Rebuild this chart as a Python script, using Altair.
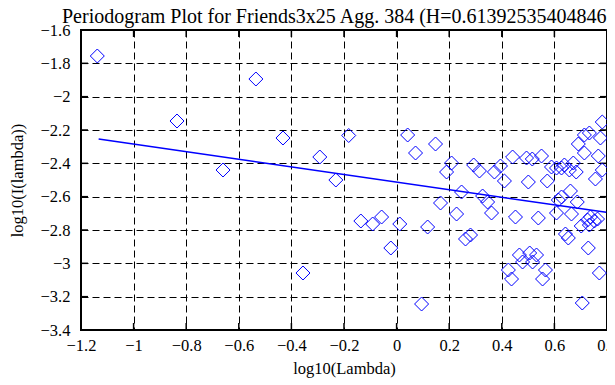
import altair as alt
import pandas as pd

title_text = "Periodogram Plot for Friends3x25 Agg. 384 (H=0.613925354048465)"
x_title = "log10(Lambda)"
y_title = "log10(I(lambda))"

x_vals = [-1.138, -0.535, -0.835, -0.432, -0.660, -0.292, -0.231, -0.356, -0.182, 0.042,
          0.072, 0.148, 0.209, 0.190, 0.293, 0.315, 0.372, 0.395, 0.410, 0.441,
          0.247, 0.327, 0.346, 0.167, 0.782, 0.714, 0.733, 0.775, 0.691, 0.714,
          0.767, 0.494, 0.516, 0.551, 0.589, 0.608, 0.627, 0.638, 0.672, 0.683,
          0.657, 0.782, 0.756, 0.501, 0.573, 0.627, 0.661, 0.615, 0.687, -0.136,
          -0.091, -0.057, 0.012, 0.118, -0.022, 0.095, 0.228, 0.361, 0.452, 0.262,
          0.281, 0.425, 0.437, 0.539, 0.608, 0.665, 0.737, 0.726, 0.752, 0.702,
          0.733, 0.642, 0.653, 0.729, 0.771, 0.467, 0.506, 0.532, 0.479, 0.517,
          0.566, 0.555, 0.706, 0.764]
y_vals = [-1.756, -1.894, -2.146, -2.248, -2.440, -2.362, -2.500, -3.058, -2.233, -2.230,
          -2.338, -2.284, -2.398, -2.452, -2.410, -2.446, -2.452, -2.416, -2.506, -2.362,
          -2.572, -2.596, -2.632, -2.638, -2.152, -2.230, -2.218, -2.248, -2.284, -2.338,
          -2.356, -2.368, -2.374, -2.356, -2.422, -2.428, -2.428, -2.410, -2.398, -2.452,
          -2.440, -2.440, -2.494, -2.512, -2.506, -2.602, -2.566, -2.620, -2.632, -2.746,
          -2.764, -2.722, -2.764, -2.782, -2.908, -3.244, -2.704, -2.698, -2.722, -2.854,
          -2.830, -3.040, -3.094, -2.728, -2.698, -2.704, -2.722, -2.740, -2.746, -2.776,
          -2.770, -2.824, -2.848, -2.908, -3.058, -2.950, -2.938, -2.950, -2.992, -2.992,
          -3.040, -3.094, -3.238, -2.734]

fit_x = [-1.133, 0.797]
fit_y = [-2.254, -2.694]

x_ticks = [-1.2, -1.0, -0.8, -0.6, -0.4, -0.2, 0.0, 0.2, 0.4, 0.6, 0.8]
y_ticks = [-3.4, -3.2, -3.0, -2.8, -2.6, -2.4, -2.2, -2.0, -1.8, -1.6]

FONT = "Liberation Serif"
BLUE = "#0000ff"
W, H = 526, 300

pts = pd.DataFrame({"x": x_vals, "y": y_vals})
fit = pd.DataFrame({"x": fit_x, "y": fit_y})
xt = pd.DataFrame({"x": x_ticks})
yt = pd.DataFrame({"y": y_ticks})
tt = pd.DataFrame({"t": [title_text]})

xs = alt.Scale(domain=[-1.2, 0.8], nice=False, zero=False)
ys = alt.Scale(domain=[-3.4, -1.6], nice=False, zero=False)

xaxis = alt.Axis(values=x_ticks, format="~g", labelPadding=7, titlePadding=7,
                 labelOverlap=False, labelBound=False, labelFlush=False)
yaxis = alt.Axis(values=y_ticks, format="~g", labelPadding=11, titlePadding=15,
                 labelOverlap=False, labelBound=False, labelFlush=False)

points = alt.Chart(pts).mark_point(
    shape="diamond", size=196, filled=False, color=BLUE, strokeWidth=1, opacity=1
).encode(
    x=alt.X("x:Q", scale=xs, axis=xaxis, title=x_title),
    y=alt.Y("y:Q", scale=ys, axis=yaxis, title=y_title),
)

line = alt.Chart(fit).mark_line(color=BLUE, strokeWidth=1.5).encode(
    x=alt.X("x:Q", scale=xs, axis=xaxis, title=x_title),
    y=alt.Y("y:Q", scale=ys, axis=yaxis, title=y_title),
)

tick_top = alt.Chart(xt).mark_rule(color="black", strokeWidth=1.5).encode(
    x=alt.X("x:Q", scale=xs, axis=xaxis, title=x_title), y=alt.value(0), y2=alt.value(7)
)
tick_bottom = alt.Chart(xt).mark_rule(color="black", strokeWidth=1.5).encode(
    x=alt.X("x:Q", scale=xs, axis=xaxis, title=x_title), y=alt.value(H - 7), y2=alt.value(H)
)
tick_left = alt.Chart(yt).mark_rule(color="black", strokeWidth=1.5).encode(
    y=alt.Y("y:Q", scale=ys, axis=yaxis, title=y_title), x=alt.value(0), x2=alt.value(7)
)
tick_right = alt.Chart(yt).mark_rule(color="black", strokeWidth=1.5).encode(
    y=alt.Y("y:Q", scale=ys, axis=yaxis, title=y_title), x=alt.value(W - 7), x2=alt.value(W)
)

title = alt.Chart(tt).mark_text(
    align="left", baseline="alphabetic", font=FONT, fontSize=20, color="black",
    limit=552, ellipsis=" ",
).encode(text="t:N", x=alt.value(-19), y=alt.value(-7.5))

chart = alt.layer(
    tick_top, tick_bottom, tick_left, tick_right, line, points, title
).properties(
    width=W,
    height=H,
    autosize=alt.AutoSizeParams(type="none"),
    padding={"left": 73, "top": 22, "right": 0, "bottom": 48},
    background="white",
).configure_view(
    stroke="black", strokeWidth=2
).configure_axis(
    labelFont=FONT, labelFontSize=16.5, labelColor="black",
    titleFont=FONT, titleFontSize=16.5, titleFontWeight="normal", titleColor="black",
    grid=True, gridColor="black", gridDash=[7, 4], gridWidth=1, gridOpacity=1,
    domain=False, ticks=False, labelOverlap=False,
)

chart.save("out.html", embed_options={"renderer": "svg", "actions": False})
